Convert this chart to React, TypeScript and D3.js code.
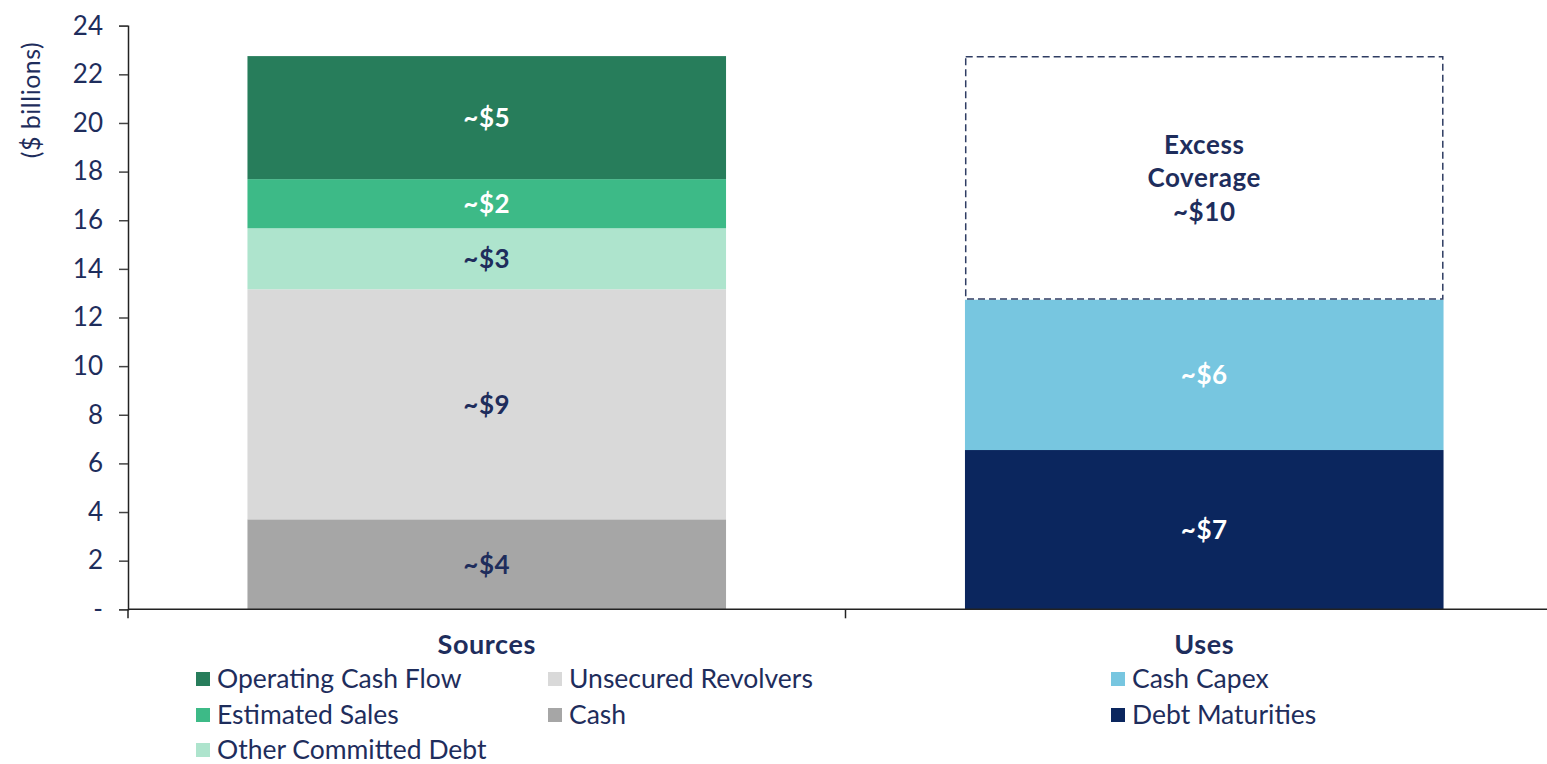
import { useEffect, useRef } from 'react';
import * as d3 from 'd3';

const categories = ['Sources', 'Uses'];

// stacked bottom -> top, $ billions
const sourceNames = ['Cash', 'Unsecured Revolvers', 'Other Committed Debt', 'Estimated Sales', 'Operating Cash Flow'];
const sourceValues = [3.7, 9.46, 2.51, 2.02, 5.06];
const sourceLabels = ['~$4', '~$9', '~$3', '~$2', '~$5'];
const sourceColors = ['#a6a6a6', '#d9d9d9', '#aee4cd', '#3dba87', '#277d5b'];
const sourceLabelColors = ['#1e2d5c', '#1e2d5c', '#1e2d5c', '#ffffff', '#ffffff'];

const useNames = ['Debt Maturities', 'Cash Capex', 'Excess Coverage'];
const useValues = [6.55, 6.18, 10.02];
const useLabels = [['~$7'], ['~$6'], ['Excess', 'Coverage', '~$10']];
const useColors = ['#0b265e', '#77c6e0', 'none'];
const useLabelColors = ['#ffffff', '#ffffff', '#1e2d5c'];

const yTicks = [0, 2, 4, 6, 8, 10, 12, 14, 16, 18, 20, 22, 24];

// legend entries (column layout)
const legendSources = [
  ['Operating Cash Flow', 'Estimated Sales', 'Other Committed Debt'],
  ['Unsecured Revolvers', 'Cash'],
];
const legendUses = ['Cash Capex', 'Debt Maturities'];

const NAVY = '#1e2d5c';
const FONT = 'Lato, sans-serif';

const App = () => {
  const svgRef = useRef<SVGSVGElement>(null);

  useEffect(() => {
    if (!svgRef.current) return;
    const W = 1547;
    const H = 764;
    const left = 128;
    const top = 25.7;
    const bottom = 609.3;

    const svg = d3.select(svgRef.current);
    svg.selectAll('*').remove();
    svg.attr('width', W).attr('height', H);

    const x = d3.scaleBand<string>().domain(categories).range([left, 1563]).padding(0);
    const y = d3.scaleLinear().domain([0, 24]).range([bottom, top]);
    const barW = x.bandwidth() * 0.667;
    const barX = (c: string) => x(c)! + (x.bandwidth() - barW) / 2;

    // y axis
    const yAxis = svg.append('g')
      .attr('transform', `translate(${left},0)`)
      .call(d3.axisLeft(y).tickValues(yTicks).tickSize(9).tickPadding(16)
        .tickFormat(d => (+d === 0 ? '-' : String(d))));
    yAxis.select('.domain').attr('stroke', '#222').attr('stroke-width', 1.5);
    yAxis.selectAll('.tick line').attr('stroke', '#444').attr('stroke-width', 1.5);
    yAxis.selectAll('.tick text')
      .style('font-family', FONT)
      .style('font-size', '26px')
      .attr('fill', NAVY);

    const boldLabel = (tx: number, ty: number, t: string, color: string) => {
      svg.append('text')
        .attr('x', tx)
        .attr('y', ty)
        .attr('dy', '0.36em')
        .attr('text-anchor', 'middle')
        .style('font-family', FONT)
        .style('font-weight', 700)
        .style('font-size', '26px')
        .style('letter-spacing', '0.6px')
        .attr('fill', color)
        .text(t);
    };

    // stacked sources
    let acc = 0;
    sourceValues.forEach((v, i) => {
      const y0 = acc;
      const y1 = acc + v;
      acc = y1;
      svg.append('rect')
        .attr('x', barX('Sources'))
        .attr('y', y(y1))
        .attr('width', barW)
        .attr('height', y(y0) - y(y1))
        .attr('fill', sourceColors[i]);
      boldLabel(x('Sources')! + x.bandwidth() / 2, (y(y0) + y(y1)) / 2, sourceLabels[i], sourceLabelColors[i]);
    });

    // stacked uses
    acc = 0;
    useValues.forEach((v, i) => {
      const y0 = acc;
      const y1 = acc + v;
      acc = y1;
      const isExcess = useColors[i] === 'none';
      svg.append('rect')
        .attr('x', barX('Uses') + (isExcess ? 0.75 : 0))
        .attr('y', y(y1) + (isExcess ? 0.75 : 0))
        .attr('width', barW - (isExcess ? 1.5 : 0))
        .attr('height', y(y0) - y(y1) - (isExcess ? 1.5 : 0))
        .attr('fill', isExcess ? 'none' : useColors[i])
        .attr('stroke', isExcess ? '#2f3d63' : 'none')
        .attr('stroke-width', 1.5)
        .attr('stroke-dasharray', isExcess ? '7,4' : null);
      const lines = useLabels[i];
      const cy = (y(y0) + y(y1)) / 2;
      const lh = 33.5;
      lines.forEach((t, j) => {
        boldLabel(x('Uses')! + x.bandwidth() / 2, cy + (j - (lines.length - 1) / 2) * lh, t, useLabelColors[i]);
      });
    });

    // x axis
    svg.append('line')
      .attr('x1', left).attr('x2', 1563)
      .attr('y1', bottom).attr('y2', bottom)
      .attr('stroke', '#222').attr('stroke-width', 1.5);
    [left, x('Uses')!].forEach(tx => {
      svg.append('line')
        .attr('x1', tx).attr('x2', tx)
        .attr('y1', bottom).attr('y2', bottom + 9)
        .attr('stroke', '#222').attr('stroke-width', 1.5);
    });
    categories.forEach(c => {
      svg.append('text')
        .attr('x', x(c)! + x.bandwidth() / 2)
        .attr('y', 644)
        .attr('dy', '0.36em')
        .attr('text-anchor', 'middle')
        .style('font-family', FONT)
        .style('font-weight', 700)
        .style('font-size', '27px')
        .style('letter-spacing', '0.6px')
        .attr('fill', NAVY)
        .text(c);
    });

    // y axis title
    svg.append('text')
      .attr('transform', 'rotate(-90)')
      .attr('x', -100)
      .attr('y', 31)
      .attr('dy', '0.36em')
      .attr('text-anchor', 'middle')
      .style('font-family', FONT)
      .style('font-size', '25px')
      .style('letter-spacing', '0.5px')
      .attr('fill', NAVY)
      .text('($ billions)');

    // legend
    const colorOf = (name: string) => {
      const si = sourceNames.indexOf(name);
      if (si >= 0) return sourceColors[si];
      return useColors[useNames.indexOf(name)];
    };
    const rowY = [679, 715, 750];
    const addItem = (name: string, sx: number, cy: number) => {
      svg.append('rect')
        .attr('x', sx).attr('y', cy - 7)
        .attr('width', 14).attr('height', 14)
        .attr('fill', colorOf(name));
      svg.append('text')
        .attr('x', sx + 21)
        .attr('y', cy)
        .attr('dy', '0.35em')
        .style('font-family', FONT)
        .style('font-size', '26.5px')
        .attr('fill', NAVY)
        .text(name);
    };
    const colX = [196, 548];
    legendSources.forEach((col, ci) => {
      col.forEach((name, ri) => addItem(name, colX[ci], rowY[ri]));
    });
    legendUses.forEach((name, ri) => addItem(name, 1111, rowY[ri]));
  }, []);

  return (
    <div style={{ position: 'absolute', left: 0, top: 0, background: '#fff' }}>
      <svg ref={svgRef} style={{ display: 'block' }}></svg>
    </div>
  );
};

export default App;
